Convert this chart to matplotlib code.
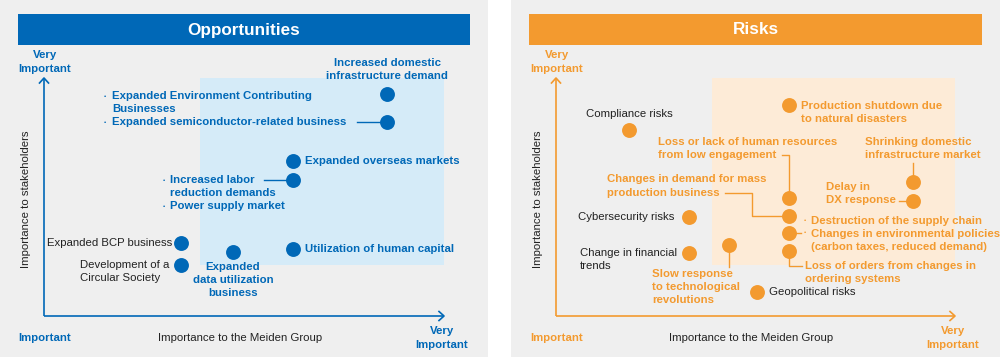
import matplotlib.pyplot as plt
from matplotlib.patches import Rectangle
from matplotlib.transforms import IdentityTransform

plt.rcParams['font.family'] = ['Liberation Sans', 'DejaVu Sans']

BLUE = '#0068b7'
ORANGE = '#f39a2f'
GRAY = '#efefef'
BLACK = '#222222'

# opportunities: importance to Meiden (x), importance to stakeholders (y), 0-100
opp_names = ['domestic infra', 'semiconductor', 'overseas', 'labor',
             'BCP', 'circular', 'data utilization', 'human capital']
opp_x = [85.75, 85.75, 62.25, 62.25, 34.25, 34.25, 47.25, 62.25]
opp_y = [93.3, 81.5, 65.1, 57.1, 30.7, 21.4, 26.9, 28.2]

# risks
risk_names = ['compliance', 'production shutdown', 'engagement', 'shrinking infra',
              'DX', 'mass production', 'supply chain / env policies', 'orders',
              'cybersecurity', 'financial', 'slow response', 'geopolitical']
risk_x = [18.3, 58.4, 58.4, 89.5, 89.5, 58.4, 58.4, 58.4, 33.3, 33.3, 43.4, 50.4]
risk_y = [78.2, 88.7, 49.6, 56.3, 48.3, 42.0, 34.9, 27.3, 41.6, 26.5, 29.8, 10.1]

# label texts
opp_labels = [
    'Increased domestic\ninfrastructure demand',
    'Expanded Environment Contributing\nBusinesses\nExpanded semiconductor-related business',
    'Expanded overseas markets',
    'Increased labor\nreduction demands\nPower supply market',
    'Expanded BCP business',
    'Development of a\nCircular Society',
    'Expanded\ndata utilization\nbusiness',
    'Utilization of human capital',
]
risk_labels = [
    'Compliance risks',
    'Production shutdown due\nto natural disasters',
    'Loss or lack of human resources\nfrom low engagement',
    'Shrinking domestic\ninfrastructure market',
    'Delay in\nDX response',
    'Changes in demand for mass\nproduction business',
    'Destruction of the supply chain\nChanges in environmental policies\n(carbon taxes, reduced demand)',
    'Loss of orders from changes in\nordering systems',
    'Cybersecurity risks',
    'Change in financial\ntrends',
    'Slow response\nto technological\nrevolutions',
    'Geopolitical risks',
]

# label placement: (dx, dy in pixels, dy downwards), ha, highlighted?
opp_place = [(0, -24.5, 'center', True), (-275, -13, 'left', True), (12, 0, 'left', True),
             (-123, 13, 'left', True), (-9, 0, 'right', False), (-101, 6.5, 'left', False),
             (0, 28, 'center', True), (12, 0, 'left', True)]
risk_place = [(0, -16, 'center', False), (12, 7.5, 'left', True), (-131, -49.5, 'left', True),
              (-48, -33.5, 'left', True), (-87, -7.5, 'left', True), (-182, -30, 'left', True),
              (22, 1, 'left', True), (16, 21.5, 'left', True), (-14, 0, 'right', False),
              (-109, 6.5, 'left', False), (-77, 42, 'left', True), (12, 0, 'left', False)]

opp_bullets = {1: [(-283, -26), (-283, 0)], 3: [(-130, 0), (-130, 26)]}
risk_bullets = {6: [(15, -12), (15, 0)]}

opp_links = {1: [(-30, 0), (0, 0)], 3: [(-29, 0), (0, 0)]}
risk_links = {2: [(-7, -43), (0, -43), (0, 0)], 3: [(0, -19), (0, 0)], 4: [(-14, 0), (0, 0)],
              5: [(-64, -23), (-37, -23), (-37, 0), (0, 0)], 6: [(0, 0), (12, 0)],
              7: [(0, 0), (0, 15), (13, 15)], 10: [(0, 0), (0, 22)]}

W, H = 1000, 357
fig = plt.figure(figsize=(10, 3.57), dpi=100)
bg = fig.add_axes([0, 0, 1, 1])
bg.set_xlim(0, W)
bg.set_ylim(H, 0)
bg.axis('off')

FS = 8.2
LS = 1.42


def panel(x0, x1, title, col, ax_x0, ax_x1, box_col, xs, ys, labels, place, bullets, links):
    bg.add_patch(Rectangle((x0, 0), x1 - x0, H, color=GRAY, lw=0))
    bg.add_patch(Rectangle((x0 + 18, 14), x1 - x0 - 36, 31, color=col, lw=0))
    bg.text((x0 + x1) / 2, 30, title, color='white', fontsize=12.3, fontweight='bold',
            ha='center', va='center')
    # axis arrows
    oy, ty = 316, 78
    bg.plot([ax_x0, ax_x0], [oy, ty], color=col, lw=1.2, solid_capstyle='butt')
    bg.plot([ax_x0 - 4.5, ax_x0, ax_x0 + 4.5], [ty + 5, ty, ty + 5], color=col, lw=1.2)
    bg.plot([ax_x0, ax_x1], [oy, oy], color=col, lw=1.2, solid_capstyle='butt')
    bg.plot([ax_x1 - 5, ax_x1, ax_x1 - 5], [oy - 4.5, oy, oy + 4.5], color=col, lw=1.2)
    bg.text(ax_x0 + 1, 62, 'Very\nImportant', color=col, fontsize=FS, fontweight='bold',
            ha='center', va='center', linespacing=LS)
    bg.text(ax_x0 + 1, 338, 'Important', color=col, fontsize=FS, fontweight='bold',
            ha='center', va='center')
    bg.text(ax_x1 - 2, 338, 'Very\nImportant', color=col, fontsize=FS, fontweight='bold',
            ha='center', va='center', linespacing=LS)
    bg.text((ax_x0 + ax_x1) / 2 - 4, 338, 'Importance to the Meiden Group', color=BLACK,
            fontsize=FS, ha='center', va='center')
    bg.text(ax_x0 - 18, 199, 'Importance to stakeholders', color=BLACK, fontsize=FS,
            rotation=90, ha='center', va='center')

    ax = fig.add_axes([ax_x0 / W, (H - oy) / H, (ax_x1 - ax_x0) / W, (oy - ty) / H])
    ax.set_xlim(0, 100)
    ax.set_ylim(0, 100)
    ax.axis('off')
    ax.patch.set_alpha(0)
    ax.add_patch(Rectangle((39, 21.6), 61, 78.9, color=box_col, lw=0, zorder=0))

    for i, offs in links.items():
        X, Y = ax.transData.transform((xs[i], ys[i]))
        ax.plot([X + dx for dx, dy in offs], [Y - dy for dx, dy in offs],
                transform=IdentityTransform(), color=col, lw=1.0, zorder=2, clip_on=False)
    ax.scatter(xs, ys, s=115, color=col, zorder=3, clip_on=False, linewidths=0)
    for i, txt in enumerate(labels):
        dx, dy, ha, hi = place[i]
        ax.annotate(txt, (xs[i], ys[i]), xytext=(dx, -dy), textcoords='offset pixels',
                    ha=ha, va='center', fontsize=FS, linespacing=LS,
                    color=col if hi else BLACK, fontweight='bold' if hi else 'normal',
                    zorder=4, annotation_clip=False)
    for i, bl in bullets.items():
        for dx, dy in bl:
            ax.annotate('\u2022', (xs[i], ys[i]), xytext=(dx, -dy), textcoords='offset pixels',
                        ha='left', va='center', fontsize=4.5, color=col,
                        annotation_clip=False)
    return ax


panel(0, 488, 'Opportunities', BLUE, 44, 444, '#d5ebf8', opp_x, opp_y,
      opp_labels, opp_place, opp_bullets, opp_links)
panel(511, 1000, 'Risks', ORANGE, 556, 955, '#fdebd7', risk_x, risk_y,
      risk_labels, risk_place, risk_bullets, risk_links)

fig.savefig('out.png', dpi=100)
